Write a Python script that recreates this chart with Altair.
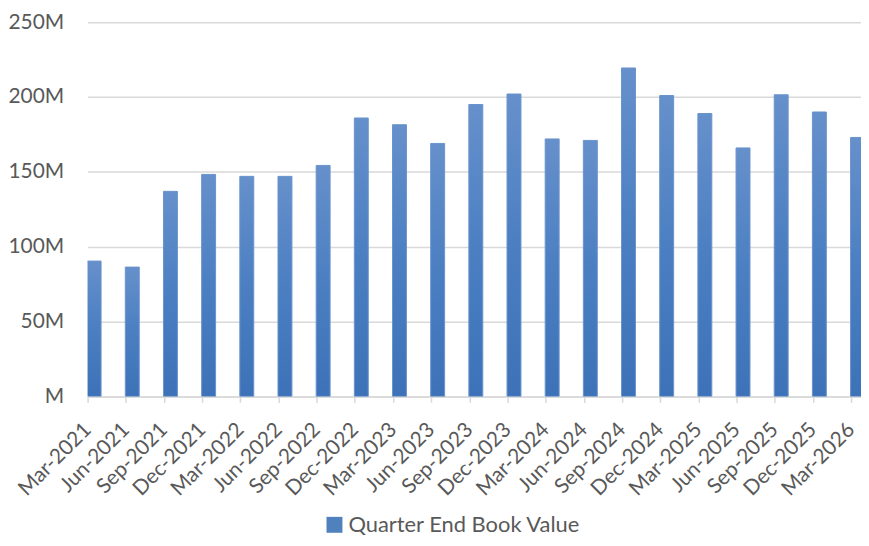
import altair as alt
import pandas as pd

quarters = ["Mar-2021", "Jun-2021", "Sep-2021", "Dec-2021", "Mar-2022", "Jun-2022",
            "Sep-2022", "Dec-2022", "Mar-2023", "Jun-2023", "Sep-2023", "Dec-2023",
            "Mar-2024", "Jun-2024", "Sep-2024", "Dec-2024", "Mar-2025", "Jun-2025",
            "Sep-2025", "Dec-2025", "Mar-2026"]
values_m = [90.4, 86.4, 137.0, 148.3, 147.0, 147.0, 154.3, 186.0, 181.5, 169.0, 195.0,
            202.0, 172.0, 171.0, 219.4, 201.0, 189.0, 166.0, 201.5, 190.0, 173.0]
y_ticks = [0, 50, 100, 150, 200, 250]
series_name = "Quarter End Book Value"

df = pd.DataFrame({
    "idx": list(range(len(quarters))),
    "quarter": quarters,
    "value": values_m,
    "series": [series_name] * len(quarters),
})

label_expr = "[" + ",".join("'" + q + "'" for q in quarters) + "][datum.value]"

FONT = "Lato"
TXT = "#595959"
GRID = "#d9d9d9"

gradient = alt.LinearGradient(
    gradient="linear",
    x1=0, y1=0, x2=0, y2=1,
    stops=[alt.GradientStop(color="#6690cb", offset=0),
           alt.GradientStop(color="#4b7fc2", offset=0.5),
           alt.GradientStop(color="#3e72b8", offset=1)],
)

x_enc = alt.X("idx:Q",
              scale=alt.Scale(domain=[0, 20.26], nice=False, zero=False, padding=0),
              axis=alt.Axis(values=list(range(len(quarters))), labelExpr=label_expr,
                            labelAngle=-45, labelAlign="right", labelBaseline="middle",
                            labelFont=FONT, labelFontSize=21, labelColor=TXT,
                            labelPadding=24,
                            domainColor=GRID, domainWidth=1.5,
                            tickColor=GRID, tickWidth=1.5, tickSize=6,
                            grid=False, title=None, labelOverlap=False))
y_enc = alt.Y("value:Q",
              scale=alt.Scale(domain=[0, 250], nice=False),
              axis=alt.Axis(values=y_ticks,
                            labelExpr="datum.value == 0 ? 'M' : datum.value + 'M'",
                            labelFont=FONT, labelFontSize=21, labelColor=TXT,
                            labelPadding=24, domain=False, ticks=False,
                            grid=True, gridColor=GRID, gridWidth=1.5, title=None))

bars = alt.Chart(df).mark_bar(
    width=14, xOffset=6.5, stroke="#6a93cc", strokeWidth=1, clip=True, fill=gradient
).encode(x=x_enc, y=y_enc)

legend_layer = alt.Chart(df).mark_point(
    shape="square", filled=True, opacity=0, size=1
).encode(
    x=x_enc, y=y_enc,
    color=alt.Color("series:N",
                    scale=alt.Scale(range=["#4f81bd"]),
                    legend=alt.Legend(title=None, orient="none", legendX=237, legendY=494,
                                      symbolType="square", symbolSize=256,
                                      symbolFillColor="#4f81bd", symbolStrokeWidth=0,
                                      symbolOpacity=1, labelLimit=0,
                                      labelFont=FONT, labelFontSize=22, labelColor=TXT,
                                      labelOffset=3)),
)

chart = alt.layer(bars, legend_layer).properties(
    width=777, height=376,
    autosize=alt.AutoSizeParams(type="none"),
    padding={"left": 80, "top": 13, "right": 0, "bottom": 140},
).configure_view(stroke=None)

chart.save("out.html", embed_options={"renderer": "svg", "actions": False})
